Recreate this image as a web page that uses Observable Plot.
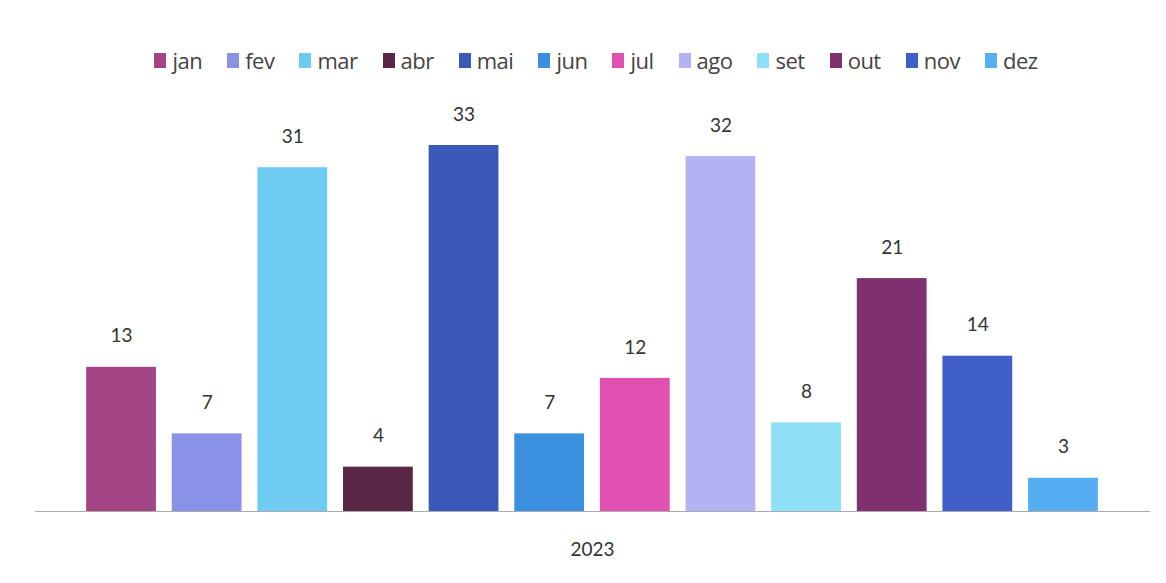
<!DOCTYPE html>
<html>
<head>
<meta charset="utf-8">
<script src="https://cdn.jsdelivr.net/npm/d3@7"></script>
<script src="https://cdn.jsdelivr.net/npm/@observablehq/plot@0.6"></script>
<style>
  html, body { margin: 0; padding: 0; background: #fff; }
  #wrap { width: 1166px; height: 583px; overflow: hidden; }
  #legend { height: 100px; display: flex; justify-content: center; align-items: flex-start; padding-top: 46px; padding-left: 26px; box-sizing: border-box; gap: 25px; font-family: "Open Sans", sans-serif; font-size: 22px; color: #444; letter-spacing: -0.5px; }
  .item { display: flex; align-items: center; line-height: 28px; }
  .sw { width: 12px; height: 15px; margin-right: 6px; display: inline-block; }
</style>
</head>
<body>
<div id="wrap">
  <div id="legend"></div>
  <div id="chart"></div>
</div>
<script>
const months = ["jan","fev","mar","abr","mai","jun","jul","ago","set","out","nov","dez"];
const values = [13, 7, 31, 4, 33, 7, 12, 32, 8, 21, 14, 3];
const colors = ["#a34585","#8a92e8","#6fcbf2","#5b2747","#3a58b8","#3a90de","#e050b0","#b3b3f2","#90e0f5","#80306f","#4060c8","#55aef2"];
const groupLabel = ["2023"];

const data = months.map((m, i) => ({month: m, value: values[i]}));

const legend = document.getElementById("legend");
months.forEach((m, i) => {
  const it = document.createElement("div");
  it.className = "item";
  const sw = document.createElement("span");
  sw.className = "sw";
  sw.style.background = colors[i];
  it.appendChild(sw);
  it.appendChild(document.createTextNode(m));
  legend.appendChild(it);
});

const plot = Plot.plot({
  width: 1166,
  height: 483,
  marginLeft: 78,
  marginRight: 60,
  marginTop: 45,
  marginBottom: 72,
  style: {fontFamily: "Lato, sans-serif", background: "#fff"},
  x: {domain: months, paddingInner: 0.185, paddingOuter: 0.095, round: false, axis: null},
  y: {domain: [0, 33], axis: null},
  color: {domain: months, range: colors},
  marks: [
    Plot.barY(data, {x: "month", y: "value", fill: "month"}),
    Plot.ruleY([0], {stroke: "#aaa", strokeWidth: 1, insetLeft: -43, insetRight: -44}),
    Plot.text(data, {x: "month", y: "value", text: d => String(d.value), dy: -31, fontSize: 19, fill: "#333"}),
    Plot.text(groupLabel, {frameAnchor: "bottom", dy: 44, fontSize: 19, fill: "#333"})
  ]
});
document.getElementById("chart").appendChild(plot);
</script>
</body>
</html>
